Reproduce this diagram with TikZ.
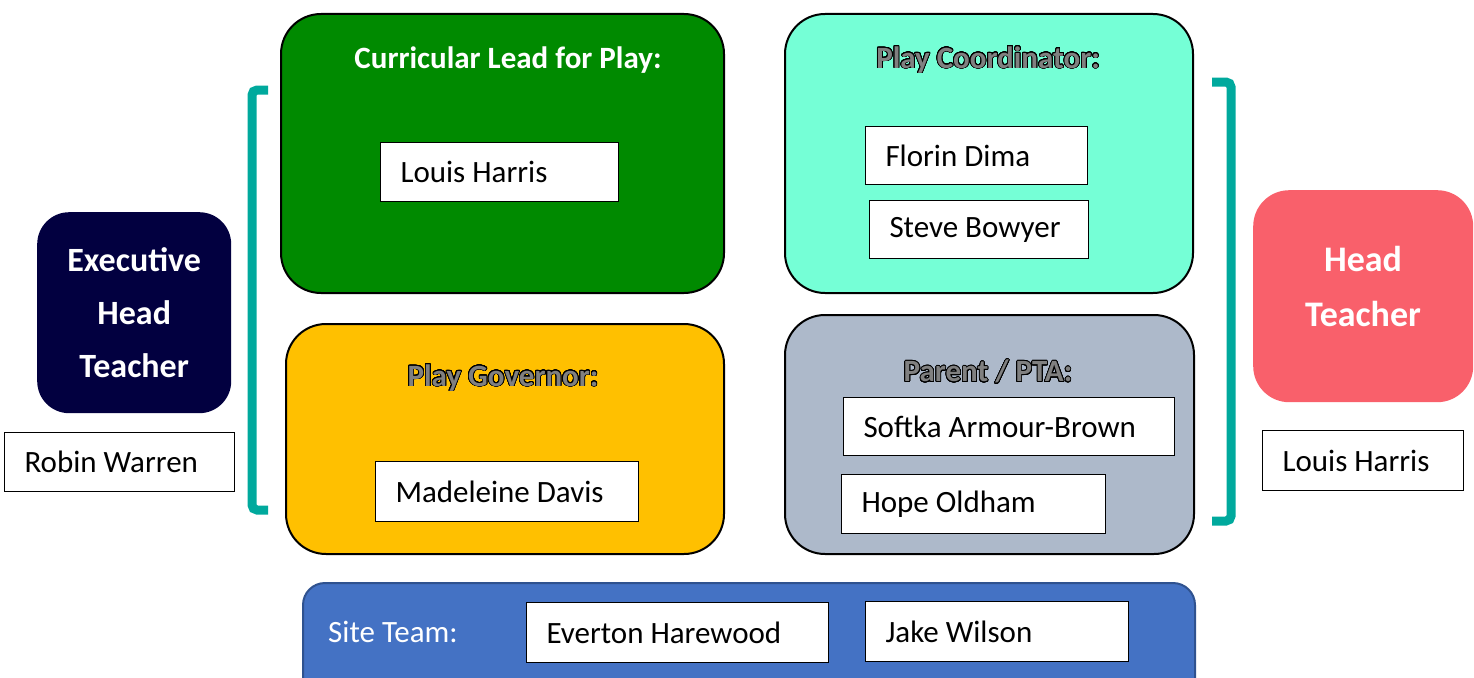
\documentclass[tikz,border=0pt]{standalone}
\usepackage{fontspec}
\setmainfont{Carlito}
\usepackage[copies]{contour}
\contourlength{0.8pt}
\contournumber{32}

\definecolor{leadgreen}{HTML}{008A00}
\definecolor{coordteal}{HTML}{75FFD6}
\definecolor{govyellow}{HTML}{FFC000}
\definecolor{parentgrey}{HTML}{ADB9CA}
\definecolor{siteblue}{HTML}{4472C4}
\definecolor{siteedge}{HTML}{2F528F}
\definecolor{execnavy}{HTML}{020040}
\definecolor{headpink}{HTML}{F9606B}
\definecolor{bracketteal}{HTML}{00A99D}

\begin{document}
\begin{tikzpicture}[x=1pt,y=-1pt,
    group/.style={draw=black, line width=2, rounded corners=40, inner sep=0, anchor=north west},
    person/.style={draw=black, line width=1, fill=white, anchor=north west, inner xsep=20, inner ysep=0, minimum height=59, align=flush left, font=\fontsize{31}{37}\selectfont},
    heading/.style={font=\bfseries\fontsize{31}{37}\selectfont},
    hollow/.style={heading, text=black!50},
    role/.style={rounded corners=32, inner sep=0, anchor=north west},
    roletext/.style={text=white, align=center, font=\bfseries\fontsize{34}{53}\selectfont},
    bracket/.style={draw=bracketteal, line width=9, rounded corners=5}]
    \useasboundingbox (0,0) rectangle (1474,677);

    % left side
    \node[role, fill=execnavy, minimum width=194, minimum height=201] (exec) at (37,212) {};
    \node[roletext] (execT) at (exec.center) {Executive\\Head\\Teacher};
    \node[person, text width=190] (rw) at (4,432) {Robin Warren};
    \draw[bracket] (268,90) -- (252,90) -- (252,510) -- (268,510);

    % the four groups
    \node[group, fill=leadgreen, minimum width=443, minimum height=279] (lead) at (280,13) {};
    \node[heading, text=white] (leadT) at (508,60) {Curricular Lead for Play:};
    \node[person, text width=198] (lh) at (380,142) {Louis Harris};

    \node[group, fill=coordteal, minimum width=408, minimum height=279] (coord) at (784,13) {};
    \node[hollow] (coordT) at (988,60) {\contour{black}{Play Coordinator:}};
    \node[person, text width=182, minimum height=58] (fd) at (865,126) {Florin Dima};
    \node[person, text width=179, minimum height=58] (sb) at (869,200) {Steve Bowyer};

    \node[group, fill=govyellow, minimum width=438, minimum height=230] (gov) at (285,323) {};
    \node[hollow] (govT) at (503,378) {\contour{black}{Play Governor:}};
    \node[person, text width=223, minimum height=60] (md) at (375,461) {Madeleine Davis};

    \node[group, fill=parentgrey, minimum width=409, minimum height=239] (parent) at (784,314) {};
    \node[hollow] (parentT) at (988,372) {\contour{black}{Parent / PTA:}};
    \node[person, text width=291, minimum height=58] (sab) at (843,397) {Softka Armour-Brown};
    \node[person, text width=224] (ho) at (841,474) {Hope Oldham};

    % right side
    \draw[bracket] (1212,82) -- (1231,82) -- (1231,521) -- (1212,521);
    \node[role, fill=headpink, minimum width=220, minimum height=212, rounded corners=36] (head) at (1253,190) {};
    \node[roletext, font=\bfseries\fontsize{36}{55}\selectfont] (headT) at (1363,286) {Head\\Teacher};
    \node[person, text width=161, minimum height=60] (lh2) at (1262,430) {Louis Harris};

    % site team
    \node[group, draw=siteedge, fill=siteblue, rounded corners=22, minimum width=892, minimum height=130] (site) at (302,582) {};
    \node[anchor=west, inner sep=0, text=white, font=\fontsize{31}{37}\selectfont] (siteT) at (328,632) {Site Team:};
    \node[person, text width=262, minimum height=60] (eh) at (526,602) {Everton Harewood};
    \node[person, text width=223, minimum height=60] (jw) at (865,601) {Jake Wilson};
\end{tikzpicture}
\end{document}
